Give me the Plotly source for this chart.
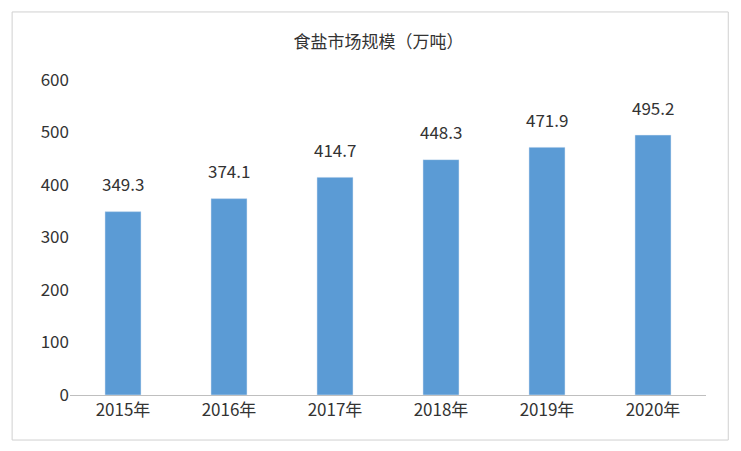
import plotly.graph_objects as go

years = ["2015年", "2016年", "2017年", "2018年", "2019年", "2020年"]
values = [349.3, 374.1, 414.7, 448.3, 471.9, 495.2]
labels = ["349.3", "374.1", "414.7", "448.3", "471.9", "495.2"]

fig = go.Figure(go.Bar(x=years, y=values, marker_color="#5B9BD5"))
for x, y, t in zip(years, values, labels):
    fig.add_annotation(x=x, y=y, text=t, showarrow=False, yshift=28,
                       font=dict(size=17, color="#333"))
fig.update_layout(
    width=741, height=451, paper_bgcolor="white", plot_bgcolor="white",
    margin=dict(l=62, r=43, t=72, b=64), bargap=0.66, showlegend=False,
    font=dict(family="Noto Sans CJK SC, Noto Sans, sans-serif", color="#333"),
    title=dict(text="食盐市场规模（万吨）", x=0.5, xanchor="center", y=0.925, yanchor="middle",
               font=dict(size=17, color="#333")),
    shapes=[dict(type="rect", xref="paper", yref="paper", x0=-0.091, x1=1.035, y0=-0.143, y1=1.216,
                 line=dict(color="#d0d0d0", width=1))],
)
fig.update_yaxes(range=[0, 600], dtick=100, showgrid=False, zeroline=False,
                 tickfont=dict(size=17, color="#333"), ticks="", showline=False)
fig.update_xaxes(showline=True, linecolor="#bfbfbf", ticks="", tickfont=dict(size=17, color="#333"))
fig.write_html("out.html")
